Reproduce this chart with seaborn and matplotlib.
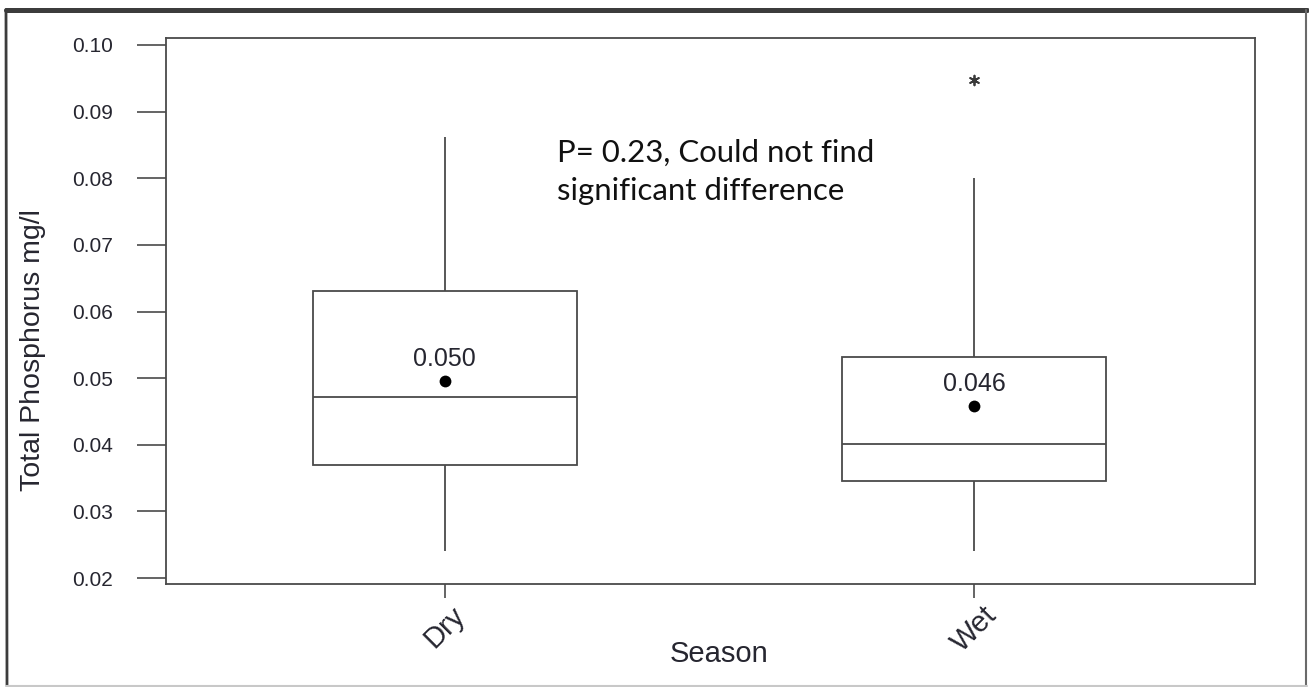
import numpy as np
import pandas as pd
import matplotlib
matplotlib.use("Agg")
import matplotlib.pyplot as plt
from matplotlib.lines import Line2D
import seaborn as sns

# Total phosphorus (mg/l) summary by season
seasons = ["Dry", "Wet"]
whisker_low = [0.0240, 0.0240]
q1 = [0.0370, 0.0346]
median = [0.0472, 0.0401]
q3 = [0.0631, 0.0532]
whisker_high = [0.0862, 0.0800]
means = [0.0496, 0.0458]
outlier_season = ["Wet"]
outlier_value = [0.0947]
y_ticks = [0.02, 0.03, 0.04, 0.05, 0.06, 0.07, 0.08, 0.09, 0.10]
note = "P= 0.23, Could not find\nsignificant difference"

# five-number summaries as a long table for the box drawing
rows = []
for s, lo, a, m, b, hi in zip(seasons, whisker_low, q1, median, q3, whisker_high):
    for v in (lo, a, m, b, hi):
        rows.append({"Season": s, "TP": v})
box_df = pd.DataFrame(rows)
mean_df = pd.DataFrame({"Season": seasons, "TP": means})
out_df = pd.DataFrame({"Season": outlier_season, "TP": outlier_value})

sns.set_style("white")
plt.rcParams["font.family"] = ["Liberation Sans", "DejaVu Sans"]

LINE = "#4a4a4a"
TEXT = "#262630"

fig = plt.figure(figsize=(13.09, 6.87), dpi=100)
ax = fig.add_axes([0.1268, 0.1499, 0.8320, 0.7948])

sns.boxplot(data=box_df, x="Season", y="TP", order=seasons, width=0.5,
            whis=(0, 100), showcaps=False, color="white", saturation=1,
            linecolor=LINE, linewidth=1.3, ax=ax)
sns.stripplot(data=mean_df, x="Season", y="TP", order=seasons, jitter=False,
              color="black", size=8.5, ax=ax)
sns.stripplot(data=out_df, x="Season", y="TP", order=seasons, jitter=False,
              marker=(6, 2, 0), color="#3a3a3a", edgecolor="#3a3a3a",
              linewidth=1.3, size=7, ax=ax)

for i, m in enumerate(means):
    ax.annotate(f"{m:.3f}", xy=(i, m), xytext=(0, 16), textcoords="offset points",
                ha="center", va="center", fontsize=18, color=TEXT)

ax.text(0.359, 0.815, note, transform=ax.transAxes, ha="left", va="top",
        fontsize=22.4, color="#111111", family=["Lato", "DejaVu Sans"],
        linespacing=1.42)

ax.set_xlim(-0.527, 1.531)
ax.set_ylim(0.0191, 0.10105)
ax.set_yticks(y_ticks)
ax.set_yticklabels([f"{t:.2f}" for t in y_ticks])

for sp in ax.spines.values():
    sp.set_visible(True)
    sp.set_color(LINE)
    sp.set_linewidth(1.3)

ax.tick_params(axis="y", direction="out", length=21, width=1.2, color=LINE,
               pad=17, labelsize=15, labelcolor=TEXT, left=True)
ax.tick_params(axis="x", direction="out", length=10, width=1.2, color=LINE,
               pad=2, labelsize=21, labelcolor=TEXT, bottom=True)
for lab in ax.get_xticklabels():
    lab.set_rotation(45)
    lab.set_ha("center")

ax.set_xlabel("Season", fontsize=21, color=TEXT)
ax.set_ylabel("Total Phosphorus mg/l", fontsize=20.5, color=TEXT)
ax.xaxis.set_label_coords(0.508, -0.102)
ax.yaxis.set_label_coords(-0.110, 0.4286)

# window frame around the whole figure
W, H = 1309, 687
frame = [((6 / W, 7 / W), (1 - 9.5 / H, 1 - 685 / H), "#3c3c3c", 2.0),
         ((6 / W, 1307 / W), (1 - 9.5 / H, 1 - 9.5 / H), "#3c3c3c", 3.6),
         ((1306 / W, 1306 / W), (1 - 9.5 / H, 1 - 685 / H), "#6a6a6a", 1.5),
         ((6 / W, 1307 / W), (1 - 685.5 / H, 1 - 685.5 / H), "#c8c8c8", 1.5)]
for xs, ys, c, lw in frame:
    fig.add_artist(Line2D(xs, ys, color=c, linewidth=lw, transform=fig.transFigure))

fig.savefig("out.png", dpi=100)
